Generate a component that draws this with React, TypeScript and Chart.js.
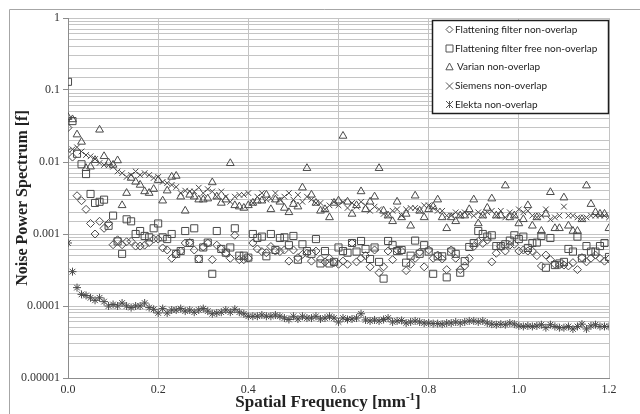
import React, { useEffect, useRef } from "react";
import { Chart, registerables } from "chart.js";

Chart.register(...registerables);

const freq = [
  0.0, 0.01, 0.02, 0.03, 0.04, 0.05, 0.06, 0.07, 0.08, 0.09,
  0.1, 0.11, 0.12, 0.13, 0.14, 0.15, 0.16, 0.17, 0.18, 0.19,
  0.2, 0.21, 0.22, 0.23, 0.24, 0.25, 0.26, 0.27, 0.28, 0.29,
  0.3, 0.31, 0.32, 0.33, 0.34, 0.35, 0.36, 0.37, 0.38, 0.39,
  0.4, 0.41, 0.42, 0.43, 0.44, 0.45, 0.46, 0.47, 0.48, 0.49,
  0.5, 0.51, 0.52, 0.53, 0.54, 0.55, 0.56, 0.57, 0.58, 0.59,
  0.6, 0.61, 0.62, 0.63, 0.64, 0.65, 0.66, 0.67, 0.68, 0.69,
  0.7, 0.71, 0.72, 0.73, 0.74, 0.75, 0.76, 0.77, 0.78, 0.79,
  0.8, 0.81, 0.82, 0.83, 0.84, 0.85, 0.86, 0.87, 0.88, 0.89,
  0.9, 0.91, 0.92, 0.93, 0.94, 0.95, 0.96, 0.97, 0.98, 0.99,
  1.0, 1.01, 1.02, 1.03, 1.04, 1.05, 1.06, 1.07, 1.08, 1.09,
  1.1, 1.11, 1.12, 1.13, 1.14, 1.15, 1.16, 1.17, 1.18, 1.19,
  1.2,
];

const flatteningFilter = [
  0.03, 0.0117, 0.0034, 0.0029, 0.0022, 0.0014, 0.001, 0.0015, 0.0012, 0.0014,
  0.00071, 0.00083, 0.00071, 0.00078, 0.00079, 0.00068, 0.00068, 0.0007, 0.00076, 0.00085,
  0.00085, 0.00064, 0.0006, 0.00046, 0.00053, 0.00058, 0.00075, 0.00076, 0.0006, 0.00045,
  0.00066, 0.00075, 0.00044, 0.0007, 0.00062, 0.00054, 0.00046, 0.00096, 0.00044, 0.00044,
  0.00046, 0.00075, 0.00062, 0.00057, 0.00055, 0.00067, 0.00058, 0.00057, 0.0006, 0.00042,
  0.0006, 0.00047, 0.00052, 0.00054, 0.00042, 0.00058, 0.00045, 0.00041, 0.00046, 0.0004,
  0.00038, 0.00042, 0.00038, 0.00075, 0.00041, 0.00046, 0.0005, 0.00035, 0.0006, 0.00029,
  0.00035, 0.00058, 0.00044, 0.0006, 0.00058, 0.00031, 0.00038, 0.00046, 0.00056, 0.00035,
  0.0006, 0.00046, 0.00051, 0.00045, 0.00032, 0.0006, 0.00046, 0.00032, 0.00036, 0.00046,
  0.00067, 0.00079, 0.00074, 0.00082, 0.00041, 0.00054, 0.00067, 0.00058, 0.0007, 0.00072,
  0.00058, 0.0006, 0.00058, 0.00058, 0.0005, 0.00036, 0.00051, 0.00044, 0.00038, 0.00037,
  0.00037, 0.00036, 0.0004, 0.00032, 0.00047, 0.00041, 0.00046, 0.00051, 0.00046, 0.00042,
  0.00045,
];

const flatteningFilterFree = [
  0.13, 0.037, 0.013, 0.0093, 0.0068, 0.0036, 0.0027, 0.0028, 0.003, 0.0013,
  0.0018, 0.00079, 0.00053, 0.0016, 0.0015, 0.001, 0.0011, 0.00094, 0.0009, 0.0012,
  0.0014, 0.0009, 0.00085, 0.001, 0.00053, 0.00058, 0.0011, 0.00075, 0.0012, 0.00045,
  0.00065, 0.00076, 0.00028, 0.0011, 0.00062, 0.00055, 0.00065, 0.0012, 0.0005, 0.0005,
  0.00047, 0.001, 0.00088, 0.00092, 0.00049, 0.001, 0.0006, 0.00088, 0.0009, 0.0007,
  0.00094, 0.00044, 0.00072, 0.00058, 0.00053, 0.00085, 0.00039, 0.00058, 0.00039, 0.00041,
  0.00065, 0.00058, 0.00055, 0.00075, 0.00057, 0.0008, 0.00062, 0.00045, 0.00065, 0.00041,
  0.00024, 0.0008, 0.0007, 0.00058, 0.0006, 0.0004, 0.0005, 0.00081, 0.00053, 0.0007,
  0.00057, 0.00028, 0.00049, 0.00049, 0.00025, 0.00057, 0.00053, 0.00029, 0.00042, 0.00066,
  0.00075, 0.0011, 0.001, 0.00092, 0.00096, 0.00068, 0.00068, 0.00072, 0.00081, 0.00096,
  0.00085, 0.00092, 0.00064, 0.00075, 0.00076, 0.00094, 0.00034, 0.00088, 0.00037, 0.00039,
  0.00041, 0.00062, 0.00057, 0.00092, 0.00046, 0.00068, 0.00057, 0.00057, 0.00068, 0.00075,
  0.00048,
];

const varian = [
  0.042, 0.039, 0.024, 0.019, 0.0082, 0.0086, 0.0106, 0.028, 0.012, 0.0098,
  0.0091, 0.0105, 0.0025, 0.0037, 0.006, 0.0053, 0.0048, 0.0039, 0.0037, 0.0042,
  0.0056, 0.0029, 0.004, 0.0062, 0.0064, 0.0033, 0.0021, 0.0035, 0.0033, 0.003,
  0.003, 0.0031, 0.0052, 0.0033, 0.0027, 0.003, 0.0096, 0.0025, 0.0024, 0.0023,
  0.0025, 0.0027, 0.0029, 0.0029, 0.0035, 0.0022, 0.003, 0.0028, 0.0023, 0.002,
  0.0026, 0.0024, 0.0044, 0.0082, 0.0035, 0.0027, 0.0021, 0.0022, 0.0017, 0.0027,
  0.0029, 0.023, 0.0028, 0.0019, 0.0025, 0.0039, 0.0022, 0.0028, 0.0033, 0.0082,
  0.0021, 0.0018, 0.0015, 0.0028, 0.0017, 0.0019, 0.0013, 0.0034, 0.0021, 0.0017,
  0.0022, 0.0024, 0.003, 0.0017, 0.0012, 0.0017, 0.0015, 0.0018, 0.0018, 0.0022,
  0.003, 0.0014, 0.0018, 0.0023, 0.0031, 0.0018, 0.0018, 0.0047, 0.0017, 0.0018,
  0.0014, 0.0016, 0.0025, 0.0013, 0.0017, 0.0011, 0.0019, 0.0038, 0.0012, 0.0012,
  0.0032, 0.0013, 0.0011, 0.0011, 0.0016, 0.0047, 0.0026, 0.002, 0.0019, 0.0019,
  0.0012,
];

const siemens = [
  0.0144, 0.015, 0.016, 0.014, 0.0125, 0.012, 0.011, 0.0097, 0.0091, 0.009,
  0.0086, 0.0074, 0.007, 0.0062, 0.0066, 0.0074, 0.0066, 0.007, 0.0066, 0.006,
  0.0062, 0.0053, 0.0051, 0.0048, 0.0045, 0.0037, 0.004, 0.0039, 0.0039, 0.0044,
  0.0037, 0.0042, 0.0039, 0.0033, 0.0039, 0.0033, 0.0028, 0.0033, 0.0035, 0.0035,
  0.0037, 0.0027, 0.0033, 0.0037, 0.003, 0.0031, 0.0037, 0.003, 0.0033, 0.0037,
  0.003, 0.0035, 0.0028, 0.0033, 0.003, 0.0027, 0.0027, 0.0022, 0.0025, 0.0028,
  0.0025, 0.0028, 0.0023, 0.0027, 0.0024, 0.0028, 0.0025, 0.0021, 0.0024, 0.0022,
  0.0019, 0.0018, 0.0021, 0.0022, 0.0018, 0.0022, 0.0023, 0.0023, 0.0021, 0.0025,
  0.0025, 0.0023, 0.0021, 0.0021, 0.0018, 0.0018, 0.002, 0.0018, 0.002, 0.0019,
  0.0018, 0.002, 0.0018, 0.002, 0.0021, 0.0018, 0.0021, 0.0017, 0.002, 0.0018,
  0.0022, 0.002, 0.0021, 0.0018, 0.0017, 0.0018, 0.0022, 0.0016, 0.0017, 0.0018,
  0.0024, 0.0018, 0.0018, 0.0017, 0.0016, 0.0017, 0.0018, 0.0018, 0.0018, 0.0018,
  0.0017,
];

const elekta = [
  0.00075, 0.0003, 0.00018, 0.000145, 0.00014, 0.00013, 0.00012, 0.00013, 0.000115, 0.0001,
  0.000105, 0.0001, 0.00011, 0.0001, 0.000095, 0.0001, 0.0001, 0.00011, 0.000095, 0.00009,
  0.00008, 0.000092, 0.00008, 0.000088, 0.000088, 0.000092, 0.000085, 0.000088, 0.000082, 0.000088,
  0.000092, 0.000085, 0.000078, 0.00008, 0.000082, 0.000088, 0.000082, 0.00009, 0.000082, 0.000078,
  0.000072, 0.000072, 0.000072, 0.000075, 0.000072, 0.000072, 0.000075, 0.000072, 0.000068, 0.000065,
  0.000072, 0.000066, 0.000072, 0.000068, 0.000068, 0.000072, 0.000066, 0.000068, 0.000072, 0.000068,
  0.00006, 0.000068, 0.000065, 0.000066, 0.000068, 0.000078, 0.000064, 0.000062, 0.000064, 0.000062,
  0.000065, 0.000068, 0.00006, 0.000062, 0.000063, 0.000058, 0.00006, 0.000062, 0.00006, 0.000058,
  0.000058, 0.000057, 0.000057, 0.000056, 0.000058, 0.000058, 0.00006, 0.000058, 0.00006, 0.000062,
  0.000062, 0.00006, 0.000062, 0.000058, 0.000056, 0.000055, 0.000056, 0.000055, 0.000058, 0.000056,
  0.000053, 0.000052, 0.000053, 0.000052, 0.000053, 0.000055, 0.00005, 0.000055, 0.000052, 0.00005,
  0.00005, 0.000052, 0.000048, 0.000052, 0.000056, 0.000048, 0.000053, 0.000055, 0.000052, 0.000052,
  0.000052,
];

const seriesLabels = [
  "Flattening filter non-overlap",
  "Flattening filter free non-overlap",
  "Varian non-overlap",
  "Siemens non-overlap",
  "Elekta non-overlap",
];
const seriesShapes = ["rectRot", "rect", "triangle", "crossRot", "star"];
const seriesRadius = [4, 5, 4.5, 4, 4];

const yTickLabels = ["1", "0.1", "0.01", "0.001", "0.0001", "0.00001"];
const xTitle = "Spatial Frequency [mm";
const xTitleSup = "-1";
const yTitle = "Noise Power Spectrum [f]";

const MARK = "#4a4a4a";
const GRID = "#c4c4c4";
const AXIS = "#8c8c8c";

function drawShape(ctx: CanvasRenderingContext2D, shape: string, x: number, y: number, r: number) {
  ctx.beginPath();
  if (shape === "rectRot") {
    ctx.moveTo(x, y - r);
    ctx.lineTo(x + r, y);
    ctx.lineTo(x, y + r);
    ctx.lineTo(x - r, y);
    ctx.closePath();
  } else if (shape === "rect") {
    ctx.rect(x - r, y - r, 2 * r, 2 * r);
  } else if (shape === "triangle") {
    ctx.moveTo(x, y - r);
    ctx.lineTo(x + r * 0.9, y + r * 0.7);
    ctx.lineTo(x - r * 0.9, y + r * 0.7);
    ctx.closePath();
  } else if (shape === "crossRot") {
    ctx.moveTo(x - r, y - r);
    ctx.lineTo(x + r, y + r);
    ctx.moveTo(x + r, y - r);
    ctx.lineTo(x - r, y + r);
  } else {
    ctx.moveTo(x - r, y - r);
    ctx.lineTo(x + r, y + r);
    ctx.moveTo(x + r, y - r);
    ctx.lineTo(x - r, y + r);
    ctx.moveTo(x, y - r);
    ctx.lineTo(x, y + r);
  }
  ctx.stroke();
}

const decorPlugin = {
  id: "decor",
  beforeDraw(chart: any) {
    const ctx = chart.ctx as CanvasRenderingContext2D;
    ctx.save();
    ctx.fillStyle = "#ffffff";
    ctx.fillRect(0, 0, chart.width, chart.height);
    ctx.strokeStyle = "#a6a6a6";
    ctx.lineWidth = 1;
    ctx.beginPath();
    ctx.moveTo(9.5, chart.height);
    ctx.lineTo(9.5, 9.5);
    ctx.lineTo(chart.width, 9.5);
    ctx.stroke();
    ctx.restore();
  },
  afterDraw(chart: any) {
    const ctx = chart.ctx as CanvasRenderingContext2D;
    const area = chart.chartArea;
    ctx.save();
    // y title
    ctx.fillStyle = "#222";
    ctx.font = 'bold 16px "Liberation Serif"';
    ctx.textAlign = "center";
    ctx.textBaseline = "middle";
    ctx.translate(23, (area.top + area.bottom) / 2);
    ctx.rotate(-Math.PI / 2);
    ctx.fillText(yTitle, 0, 0);
    ctx.restore();

    // x title with superscript
    ctx.save();
    ctx.fillStyle = "#222";
    ctx.textBaseline = "alphabetic";
    ctx.textAlign = "left";
    const mainFont = 'bold 17px "Liberation Serif"';
    const supFont = 'bold 11px "Liberation Serif"';
    ctx.font = mainFont;
    const w1 = ctx.measureText(xTitle).width;
    const w3 = ctx.measureText("]").width;
    ctx.font = supFont;
    const w2 = ctx.measureText(xTitleSup).width;
    const total = w1 + w2 + w3;
    const x0 = 328 - total / 2;
    const by = 407;
    ctx.font = mainFont;
    ctx.fillText(xTitle, x0, by);
    ctx.font = supFont;
    ctx.fillText(xTitleSup, x0 + w1, by - 7);
    ctx.font = mainFont;
    ctx.fillText("]", x0 + w1 + w2, by);
    ctx.restore();

    // legend
    ctx.save();
    const lx = 432.5, ly = 20.5, lw = 176, lh = 93;
    ctx.fillStyle = "#ffffff";
    ctx.fillRect(lx, ly, lw, lh);
    ctx.strokeStyle = "#1e1e1e";
    ctx.lineWidth = 1.5;
    ctx.strokeRect(lx, ly, lw, lh);
    const rows = [29.5, 48.5, 67, 86, 104.5];
    ctx.font = '10px "Lato"';
    ctx.textBaseline = "middle";
    ctx.textAlign = "left";
    for (let i = 0; i < seriesLabels.length; i++) {
      ctx.strokeStyle = "#555";
      ctx.lineWidth = 1;
      const r = seriesShapes[i] === "rect" ? 3.5 : seriesShapes[i] === "triangle" ? 4 : 3.5;
      drawShape(ctx, seriesShapes[i], 449.5, rows[i], r);
      ctx.fillStyle = "#1a1a1a";
      ctx.fillText(seriesLabels[i], i === 2 ? 457 : 455, rows[i]);
    }
    ctx.restore();
  },
};

const seriesValues = [flatteningFilter, flatteningFilterFree, varian, siemens, elekta];

export default function App() {
  const ref = useRef<HTMLCanvasElement | null>(null);

  useEffect(() => {
    if (!ref.current) return;
    const datasets = seriesValues.map((vals, k) => ({
      label: seriesLabels[k],
      data: vals.map((v, i) => ({ x: freq[i], y: v })),
      showLine: false,
      pointStyle: seriesShapes[k] as any,
      pointRadius: seriesRadius[k],
      pointBorderColor: MARK,
      pointBackgroundColor: "rgba(0,0,0,0)",
      pointBorderWidth: 1,
      borderColor: MARK,
      backgroundColor: "rgba(0,0,0,0)",
    }));
    const isDecade = (v: number) => {
      const l = Math.log10(v);
      return Math.abs(l - Math.round(l)) < 1e-6;
    };
    const chart = new Chart(ref.current, {
      type: "scatter",
      data: { datasets: datasets as any },
      plugins: [decorPlugin as any],
      options: {
        responsive: false,
        animation: false,
        events: [],
        layout: { padding: { top: 18, right: 31, left: 0, bottom: 0 } },
        plugins: { legend: { display: false }, tooltip: { enabled: false } },
        scales: {
          x: {
            type: "linear",
            min: 0,
            max: 1.2,
            ticks: {
              stepSize: 0.2,
              maxRotation: 0,
              padding: 5,
              color: "#333",
              font: { family: '"Liberation Serif"', size: 12 },
              callback: (v: any) => Number(v).toFixed(1),
            },
            grid: { color: GRID, drawTicks: false, lineWidth: 1 },
            border: { color: AXIS, width: 1 },
            afterFit: (s: any) => {
              s.height = 36;
            },
          },
          y: {
            type: "logarithmic",
            min: 0.00001,
            max: 1,
            ticks: {
              autoSkip: false,
              padding: 3,
              color: "#333",
              font: { family: '"Liberation Serif"', size: 12 },
              callback: (v: any) => {
                const n = Number(v);
                if (!isDecade(n)) return "";
                return yTickLabels[-Math.round(Math.log10(n))];
              },
            },
            grid: {
              color: GRID,
              lineWidth: 1,
              tickLength: 5,
              tickColor: (c: any) => (c.tick && isDecade(c.tick.value) ? AXIS : "rgba(0,0,0,0)"),
            },
            border: { color: AXIS, width: 1 },
            afterFit: (s: any) => {
              s.width = 68;
            },
          },
        },
      },
    });
    return () => chart.destroy();
  }, []);

  return (
    <div style={{ position: "fixed", left: 0, top: 0, width: 640, height: 414, background: "#fff" }}>
      <canvas ref={ref} width={640} height={414} style={{ width: 640, height: 414, display: "block" }} />
    </div>
  );
}
